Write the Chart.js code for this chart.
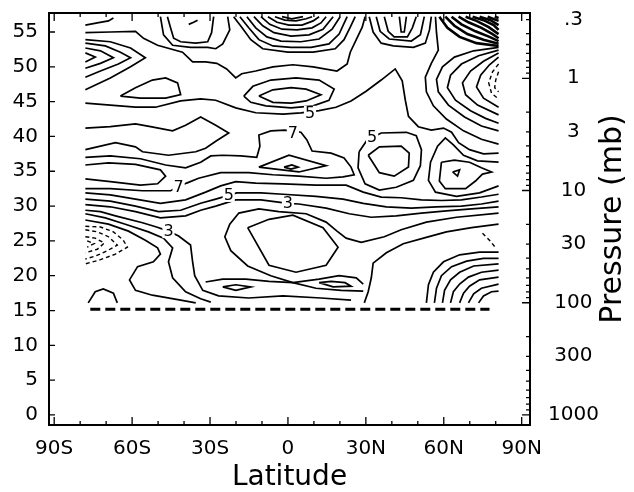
<!DOCTYPE html>
<html>
<head>
<meta charset="utf-8">
<script src="https://cdn.jsdelivr.net/npm/chart.js@4.4.1/dist/chart.umd.min.js"></script>
<style>
  body { margin: 0; background: #fff; }
  canvas { display: block; }
</style>
</head>
<body>
<canvas id="chart" width="634" height="492"></canvas>
<script>
// axis ticks
const latTicks = [-90, -60, -30, 0, 30, 60, 90];
const latLabels = ['90S', '60S', '30S', '0', '30N', '60N', '90N'];
const latMinor = [-80, -70, -50, -40, -20, -10, 10, 20, 40, 50, 70, 80];
const altTicks = [0, 5, 10, 15, 20, 25, 30, 35, 40, 45, 50, 55];
const pressureTicks = [0.3, 1, 3, 10, 30, 100, 300, 1000];
const pressureLabels = ['.3', '1', '3', '10', '30', '100', '300', '1000'];
const pressureMajor = [1, 10, 100, 1000];
const pressureMinor = [0.3, 0.4, 0.5, 0.6, 0.7, 0.8, 0.9, 2, 3, 4, 5, 6, 7, 8, 9,
  20, 30, 40, 50, 60, 70, 80, 90, 200, 300, 400, 500, 600, 700, 800, 900];
const scaleHeight = 7; // km, altitude <-> pressure

// contour lines, [latitude, altitude km]
const topContours = [
  [[-78.0,56.0],[-73.4,56.3],[-69.1,56.6],[-67.2,57.0]],
  [[-46.4,57.2],[-45.2,55.6],[-44.0,54.1],[-41.3,53.6],[-35.5,53.4],[-30.9,53.6],[-29.4,54.9],[-28.6,57.2]],
  [[-49.1,57.2],[-47.9,54.6],[-44.4,53.1],[-37.5,52.8],[-30.9,52.8],[-27.8,52.6],[-25.1,53.3],[-22.4,55.3],[-23.2,57.2]],
  [[-38.2,56.1],[-36.3,56.4],[-34.8,56.7]],
  [[-20.9,57.2],[-17.8,55.7],[-14.3,53.9],[-9.7,52.6],[0,52.1],[9.7,52.1],[18.2,52.6],[21.6,53.9],[24.0,55.7],[25.9,57.2]],
  [[-18.5,57.2],[-15.1,55.6],[-11.2,53.9],[-5.8,53.0],[1.2,52.8],[8.9,52.8],[15.8,53.3],[19.7,54.7],[22.8,57.2]],
  [[-15.8,57.2],[-12.4,55.6],[-8.1,54.3],[-2.7,53.7],[5.0,53.6],[12.0,54.0],[17.0,55.4],[20.1,57.2]],
  [[-13.1,57.2],[-9.7,55.9],[-5.4,54.9],[1.2,54.4],[8.1,54.6],[13.5,55.4],[17.4,57.2]],
  [[-10.4,57.2],[-7.0,56.1],[-2.3,55.4],[3.5,55.3],[9.3,55.6],[12.7,56.3],[14.7,57.2]],
  [[-7.7,57.2],[-4.2,56.4],[0.4,56.0],[5.4,56.0],[9.7,56.6],[12.0,57.2]],
  [[-5.0,57.2],[-1.2,56.7],[3.1,56.6],[7.0,56.9],[9.3,57.2]],
  [[-2.3,57.2],[1.5,56.9],[5.8,57.2]],
  [[31.3,57.2],[32.8,55.0],[35.9,53.4],[40.6,53.0],[48.3,52.8],[52.9,53.4],[54.5,55.3],[55.2,57.2]],
  [[34.0,57.2],[35.5,55.1],[39.0,54.0],[47.5,53.7],[51.0,54.6],[52.5,57.2]],
  [[37.1,57.2],[38.6,55.1],[40.9,54.3],[46.0,54.3],[47.9,55.6],[49.4,57.2]],
  [[42.9,57.2],[43.6,55.0],[44.8,55.0],[45.6,57.2]]
];

// the dense knot in the north-east corner
const cornerKnot = [
  [[58.3,57.2],[61.4,55.6],[66.1,54.3],[72.6,53.4],[81.1,53.0]],
  [[60.6,57.2],[64.1,55.9],[69.1,54.7],[75.3,53.9],[81.1,53.3]],
  [[63.0,57.2],[66.8,56.1],[72.2,55.1],[77.6,54.3],[81.1,53.7]],
  [[65.7,57.2],[69.5,56.4],[74.5,55.6],[78.8,54.7],[81.1,54.1]],
  [[68.4,57.2],[72.6,56.6],[77.3,55.7],[81.1,54.7]],
  [[71.1,57.2],[75.3,56.7],[79.2,56.0],[81.1,55.3]],
  [[73.8,57.2],[78.0,56.7],[81.1,56.0]],
  [[76.9,57.2],[81.1,56.6]],
  [[79.6,57.2],[81.1,57.0]]
];

const cornerContours = [
  [[56.8,57.2],[57.2,54.9],[57.9,52.4],[55.2,50.5],[52.9,48.5],[53.3,46.4],[56.0,44.4],[61.0,42.5],[67.6,40.8],[74.5,39.6],[81.1,38.9]],
  [[81.1,52.8],[71.5,52.3],[64.1,51.4],[59.5,50.0],[57.2,48.2],[57.9,46.4],[61.8,44.5],[68.0,42.8],[74.5,41.5],[81.1,40.8]],
  [[81.1,52.4],[73.4,51.6],[66.8,50.4],[62.6,48.8],[61.4,47.0],[64.5,45.2],[70.3,43.7],[76.1,42.6],[81.1,41.9]],
  [[81.1,52.0],[75.3,50.8],[70.3,49.4],[67.2,47.7],[68.4,46.0],[73.0,44.5],[81.1,43.1]],
  [[81.1,51.4],[77.6,50.3],[74.2,48.8],[72.6,47.1],[75.3,45.5],[81.1,44.2]]
];

const upperContours = [
  [[-78.0,53.9],[-68.4,53.6],[-60.6,52.7],[-54.9,51.3],[-60.6,50.0],[-68.4,48.4],[-78.0,46.7]],
  [[-78.0,53.4],[-70.3,53.0],[-64.5,52.1],[-60.6,51.3],[-65.3,50.4],[-72.2,49.4],[-78.0,48.5]],
  [[-78.0,52.7],[-72.2,52.3],[-67.2,51.3],[-72.2,50.5],[-78.0,49.8]],
  [[-78.0,52.0],[-74.2,51.4],[-78.0,50.7]],
  [[-64.5,45.8],[-58.7,47.0],[-52.2,48.1],[-47.1,48.4],[-42.5,47.7],[-41.3,46.0],[-47.1,45.5],[-56.8,45.5],[-64.5,45.8]],
  [[-78.0,54.9],[-68.4,55.0],[-58.7,55.1],[-55.6,54.1],[-50.2,53.1],[-40.6,52.1],[-36.7,50.7],[-31.7,50.7],[-27.4,50.5],
   [-23.6,49.7],[-20.1,48.4],[-17.8,49.0],[-12.4,49.4],[-5.8,50.0],[1.9,50.3],[9.7,50.0],[18.9,49.4],[22.8,50.4],
   [24.0,52.1],[26.3,53.9],[28.6,55.7],[29.7,57.2]],
  [[-11.2,45.8],[-5.8,46.7],[1.2,47.0],[7.0,46.8],[12.7,46.0],[7.0,45.1],[1.2,44.8],[-5.8,44.9],[-11.2,45.8]],
  [[-17.0,45.8],[-13.5,47.2],[-6.6,48.1],[3.1,48.4],[12.0,48.1],[17.8,46.8],[15.8,45.2],[9.7,44.4],[1.2,44.1],
   [-8.5,44.4],[-14.3,44.9],[-17.0,45.8]],
  [[-78.0,44.8],[-68.4,44.5],[-58.7,44.2],[-51.0,44.2],[-41.3,45.1],[-33.6,45.4],[-27.8,45.2],[-20.1,44.1],[-12.4,43.4],
   [-1.9,43.2],[5.0,43.4],[12.0,43.7],[18.5,44.2],[24.3,45.1],[30.1,46.5],[35.9,48.1],[41.3,49.7],[44.0,48.0],
   [45.2,45.2],[46.4,42.9],[50.2,41.4],[55.2,40.9],[59.9,41.2],[63.0,40.6],[65.7,39.1],[69.9,38.1],[75.3,37.5],[81.1,37.6]]
];

const middleContours = [
  [[-78.0,41.2],[-68.4,41.4],[-58.7,41.8],[-52.9,41.4],[-44.4,40.8],[-39.4,41.6],[-33.6,42.8],[-27.8,41.6],[-22.8,40.5],
   [-27.8,39.3],[-31.7,38.3],[-35.5,37.8],[-46.0,37.3],[-56.0,37.8],[-58.7,38.5],[-66.4,39.1],[-78.0,38.1]],
  [[-78.0,37.0],[-68.4,37.2],[-56.8,36.8],[-47.1,35.9],[-39.4,35.5],[-33.6,36.3],[-29.7,37.2],[-25.1,37.3],[-18.2,37.2],
   [-12.0,37.0],[-10.8,38.6],[-11.2,40.2],[-6.6,40.8],[-1.2,40.9],[5.0,40.6],[7.3,39.5],[9.3,37.9],[16.6,37.6],
   [21.6,36.9],[24.3,35.6],[25.5,34.5],[21.2,34.2],[14.7,34.0],[4.2,34.3],[-5.8,34.5],[-15.1,34.8],[-25.9,34.8],
   [-34.4,34.0],[-39.0,33.3],[-45.2,32.2],[-56.0,32.2],[-68.4,32.5],[-78.0,32.5]],
  [[-78.0,35.9],[-69.1,36.2],[-58.7,36.0],[-49.1,35.2],[-47.1,34.3],[-50.2,33.2],[-56.8,33.0],[-68.4,33.5],[-78.0,33.9]],
  [[-11.2,35.6],[0.4,37.3],[14.7,35.8],[4.2,34.9],[-11.2,35.6]],
  [[-1.5,35.6],[1.5,35.9],[3.9,35.6],[1.2,35.3],[-1.5,35.6]],
  [[27.4,37.8],[30.5,39.5],[35.9,40.5],[45.6,40.6],[49.4,40.1],[51.4,38.1],[51.0,35.8],[48.3,33.7],[41.7,32.7],
   [35.2,32.3],[29.7,33.2],[27.0,35.5],[27.4,37.8]],
  [[30.9,37.3],[35.2,38.5],[43.6,38.6],[46.7,37.6],[46.4,35.6],[40.9,34.3],[35.2,34.8],[30.9,37.3]],
  [[81.1,32.9],[73.8,31.9],[64.9,31.4],[56.8,32.0],[54.1,33.7],[54.9,36.3],[57.6,38.6],[60.6,39.8],[63.7,38.8],
   [67.6,37.3],[73.0,36.5],[81.1,36.3]],
  [[59.1,36.3],[64.1,36.6],[69.9,36.3],[74.5,35.5],[78.4,34.9],[74.9,34.6],[72.2,33.6],[68.4,32.5],[60.6,32.5],
   [58.3,33.6],[59.1,36.3]],
  [[63.4,34.9],[66.1,35.2],[65.3,34.3],[63.4,34.9]]
];

const bandContours = [
  [[-78.0,31.9],[-68.4,31.6],[-58.7,31.0],[-49.1,30.4],[-39.4,30.9],[-31.7,32.0],[-25.9,32.9],[-20.1,33.5],[-12.4,33.3],
   [-1.9,33.2],[10.8,33.0],[22.4,33.0],[29.0,32.0],[35.9,31.3],[43.6,31.2],[51.4,30.9],[59.1,30.8],[66.8,30.9],
   [74.5,31.3],[81.1,31.7]],
  [[-78.0,31.0],[-68.4,30.7],[-58.7,30.0],[-49.8,29.2],[-41.3,29.4],[-33.6,30.4],[-27.8,31.0],[-19.7,31.9],[-10.4,31.9],
   [-1.9,31.7],[10.8,31.4],[21.2,31.0],[29.0,30.4],[37.9,29.9],[47.5,29.7],[57.2,29.9],[66.8,30.0],[74.5,30.3],[81.1,30.7]],
  [[-78.0,30.2],[-68.4,29.9],[-58.7,29.2],[-49.1,28.3],[-39.4,28.6],[-33.6,29.4],[-27.8,30.0],[-20.1,30.9],[-10.4,30.9],
   [0,30.4],[4.2,30.3],[14.7,29.7],[23.6,28.9],[32.1,28.4],[41.7,28.6],[51.4,29.0],[61.0,29.3],[70.7,29.6],[81.1,29.9]],
  [[-78.0,29.4],[-72.2,29.2],[-66.4,28.6],[-56.0,27.6],[-50.6,27.0],[-46.0,26.4],[-42.1,25.7],[-37.5,24.4],[-36.7,22.0],
   [-35.9,20.0],[-32.8,17.9],[-26.7,17.1],[-15.1,16.8],[-1.9,17.1],[12.7,16.8],[24.3,16.5]],
  [[-78.0,28.9],[-70.3,28.3],[-62.6,27.4],[-53.7,26.3],[-47.9,25.4],[-44.4,24.0],[-46.0,22.0],[-44.4,19.7],[-39.4,17.7],
   [-33.6,16.7],[-29.7,16.2]],
  [[-78.0,28.0],[-69.1,27.4],[-61.4,26.4],[-54.9,25.1],[-50.2,24.0],[-49.1,23.1],[-51.8,22.0],[-57.9,21.3],[-61.0,19.4],
   [-58.7,17.9],[-52.2,17.2],[-41.3,16.5],[-35.5,16.1]],
  [[-76.9,16.1],[-74.2,17.7],[-71.1,18.1],[-67.2,17.5],[-65.7,16.1]]
];

const lowerContours = [
  [[-15.5,26.9],[-7.3,28.1],[1.9,28.7],[13.5,26.9],[19.3,24.1],[14.7,21.5],[3.1,20.5],[-7.3,21.5],[-15.5,26.9]],
  [[29.0,17.8],[20.5,17.9],[10.8,18.2],[1.9,19.0],[-6.6,20.0],[-15.5,21.4],[-22.0,23.6],[-24.3,25.6],[-22.4,27.4],
   [-18.9,29.0],[-11.2,29.6],[-3.5,29.2],[7.0,28.9],[14.7,27.7],[18.9,26.4],[22.4,25.4],[28.2,24.8],[37.1,25.6],
   [43.6,26.6],[53.3,27.7],[64.9,28.4],[81.1,29.0]],
  [[-31.7,19.1],[-25.1,19.5],[-16.2,19.5],[-7.3,19.2],[1.9,19.0],[12.0,19.5],[19.7,20.0],[26.3,19.7],[29.0,18.8]],
  [[-25.1,18.4],[-20.1,18.7],[-14.3,18.4],[-20.1,17.9],[-25.1,18.4]],
  [[12.0,19.0],[16.6,19.2],[22.0,19.0],[24.3,18.5],[17.4,18.4],[12.0,19.0]],
  [[29.4,16.1],[30.9,17.7],[32.1,19.7],[32.8,21.8],[37.9,23.3],[44.4,24.6],[52.2,25.4],[61.0,26.3],[70.7,26.9],[81.1,27.4]],
  [[53.3,16.1],[54.1,18.7],[56.0,20.5],[59.9,22.0],[66.1,23.0],[73.8,23.4],[81.1,23.4]],
  [[56.4,16.1],[57.2,18.2],[59.1,20.0],[63.0,21.3],[68.8,22.1],[75.3,22.5],[81.1,22.5]],
  [[59.5,16.1],[60.3,17.9],[62.6,19.4],[66.1,20.5],[71.5,21.4],[81.1,21.7]],
  [[62.6,16.1],[63.7,17.7],[66.1,18.8],[69.5,19.8],[74.5,20.5],[81.1,20.8]],
  [[66.1,16.1],[67.6,17.5],[69.9,18.5],[73.8,19.4],[81.1,19.8]],
  [[69.5,16.1],[71.5,17.4],[74.5,18.2],[81.1,18.8]],
  [[73.4,16.1],[75.3,17.1],[78.4,17.7],[81.1,17.8]]
];

const negativeContours = [
  [[81.1,50.4],[78.8,49.3],[77.3,47.7],[78.4,46.2],[81.1,45.4]],
  [[81.1,49.3],[80.0,48.1],[79.6,47.0],[81.1,46.4]],
  [[-78.0,27.1],[-72.2,27.0],[-67.2,26.3],[-63.4,25.1],[-61.8,24.1],[-66.4,23.1],[-72.2,22.3],[-78.0,21.7]],
  [[-78.0,26.6],[-73.4,26.3],[-69.1,25.6],[-65.7,24.4],[-69.5,23.6],[-74.2,22.8],[-78.0,22.4]],
  [[-78.0,25.6],[-74.2,25.4],[-70.7,24.7],[-73.4,23.8],[-78.0,23.3]],
  [[-77.3,25.0],[-74.6,24.6],[-77.3,24.1]],
  [[74.9,26.1],[77.6,25.1],[80.0,24.0]]
];

const tropopause = [[-76.1, 15.2], [77.6, 15.2]];

const contourLabels = [
  [8.5, 43.4, '5'], [1.9, 40.5, '7'], [32.4, 39.9, '5'], [-42.1, 32.7, '7'],
  [-22.8, 31.6, '5'], [0.0, 30.4, '3'], [-46.0, 26.4, '3']
];

Chart.defaults.font.family = '"DejaVu Sans", sans-serif';
Chart.defaults.color = '#000';

const datasets = [];
const addLines = (lines, dash, width) => lines.forEach(line => datasets.push({
  data: line.map(([x, y]) => ({x, y})),
  showLine: true, pointRadius: 0, borderColor: '#000', borderWidth: width,
  borderDash: dash, tension: 0, fill: false
}));
addLines(topContours, [], 1.7);
addLines(cornerKnot, [], 2.6);
addLines(cornerContours, [], 1.7);
addLines(upperContours, [], 1.7);
addLines(middleContours, [], 1.7);
addLines(bandContours, [], 1.7);
addLines(lowerContours, [], 1.7);
addLines(negativeContours, [4, 3], 1.4);
addLines([tropopause], [10, 5], 3);

const decorations = {
  id: 'decorations',
  afterDatasetsDraw(chart) {
    const {ctx, scales: {x, y}} = chart;
    ctx.save();
    ctx.font = '16px "DejaVu Sans"';
    ctx.textAlign = 'center';
    ctx.textBaseline = 'middle';
    contourLabels.forEach(([lat, alt, t]) => {
      const px = x.getPixelForValue(lat), py = y.getPixelForValue(alt);
      const w = ctx.measureText(t).width + 2;
      ctx.fillStyle = '#fff';
      ctx.fillRect(px - w / 2, py - 7, w, 14);
      ctx.fillStyle = '#000';
      ctx.fillText(t, px, py + 1);
    });
    ctx.restore();
  },
  afterDraw(chart) {
    const {ctx, chartArea: a, scales: {x, y, p}} = chart;
    ctx.save();
    ctx.strokeStyle = '#000';
    ctx.lineWidth = 2;
    ctx.strokeRect(a.left, a.top, a.right - a.left, a.bottom - a.top);
    // inward tick marks
    ctx.lineWidth = 1.3;
    ctx.beginPath();
    const tickX = (v, len) => {
      const px = x.getPixelForValue(v);
      ctx.moveTo(px, a.bottom); ctx.lineTo(px, a.bottom - len);
      ctx.moveTo(px, a.top); ctx.lineTo(px, a.top + len);
    };
    latTicks.forEach(v => tickX(v, 8));
    latMinor.forEach(v => tickX(v, 4));
    altTicks.forEach(v => {
      const py = y.getPixelForValue(v);
      ctx.moveTo(a.left, py); ctx.lineTo(a.left + 6, py);
    });
    pressureMajor.forEach(v => {
      const py = p.getPixelForValue(v);
      ctx.moveTo(a.right, py); ctx.lineTo(a.right - 8, py);
    });
    pressureMinor.forEach(v => {
      const py = p.getPixelForValue(v);
      ctx.moveTo(a.right, py); ctx.lineTo(a.right - 4, py);
    });
    ctx.stroke();
    // right axis title, reads upward
    ctx.font = '30px "DejaVu Sans"';
    ctx.fillStyle = '#000';
    ctx.textAlign = 'center';
    ctx.textBaseline = 'middle';
    ctx.translate(613, (a.top + a.bottom) / 2);
    ctx.rotate(-Math.PI / 2);
    ctx.fillText('Pressure (mb)', 0, 0);
    ctx.restore();
  }
};

const altMin = -1.44, altMax = 57.73;
const noPad = s => { s.paddingTop = 0; s.paddingBottom = 0; s.paddingLeft = 0; s.paddingRight = 0; };

new Chart(document.getElementById('chart'), {
  type: 'scatter',
  data: {datasets},
  options: {
    responsive: false,
    animation: false,
    devicePixelRatio: 1,
    events: [],
    layout: {padding: {top: 13, left: 0, right: 0, bottom: 0}},
    plugins: {legend: {display: false}, tooltip: {enabled: false}},
    scales: {
      x: {
        type: 'linear', position: 'bottom', min: -92, max: 93.2,
        grid: {display: false, drawTicks: false}, border: {display: false},
        afterBuildTicks: s => { s.ticks = latTicks.map(v => ({value: v})); },
        afterFit: s => { s.height = 67; noPad(s); },
        ticks: {autoSkip: false, maxRotation: 0, padding: 12, font: {size: 20},
          callback: v => latLabels[latTicks.indexOf(v)]},
        title: {display: true, text: 'Latitude', font: {size: 28, lineHeight: 1}, padding: 0}
      },
      y: {
        type: 'linear', position: 'left', min: altMin, max: altMax,
        grid: {display: false, drawTicks: false}, border: {display: false},
        afterBuildTicks: s => { s.ticks = altTicks.map(v => ({value: v})); },
        afterFit: s => { s.width = 49; noPad(s); },
        ticks: {autoSkip: false, padding: 11, font: {size: 20}}
      },
      p: {
        type: 'logarithmic', position: 'right', reverse: true,
        min: 1000 * Math.exp(-altMax / scaleHeight),
        max: 1000 * Math.exp(-altMin / scaleHeight),
        grid: {display: false, drawTicks: false}, border: {display: false},
        afterBuildTicks: s => { s.ticks = pressureTicks.map(v => ({value: v})); },
        afterFit: s => { s.width = 104; noPad(s); },
        ticks: {autoSkip: false, padding: 18, crossAlign: 'center', font: {size: 20},
          callback: v => pressureLabels[pressureTicks.indexOf(v)]}
      }
    }
  },
  plugins: [decorations]
});
</script>
</body>
</html>
